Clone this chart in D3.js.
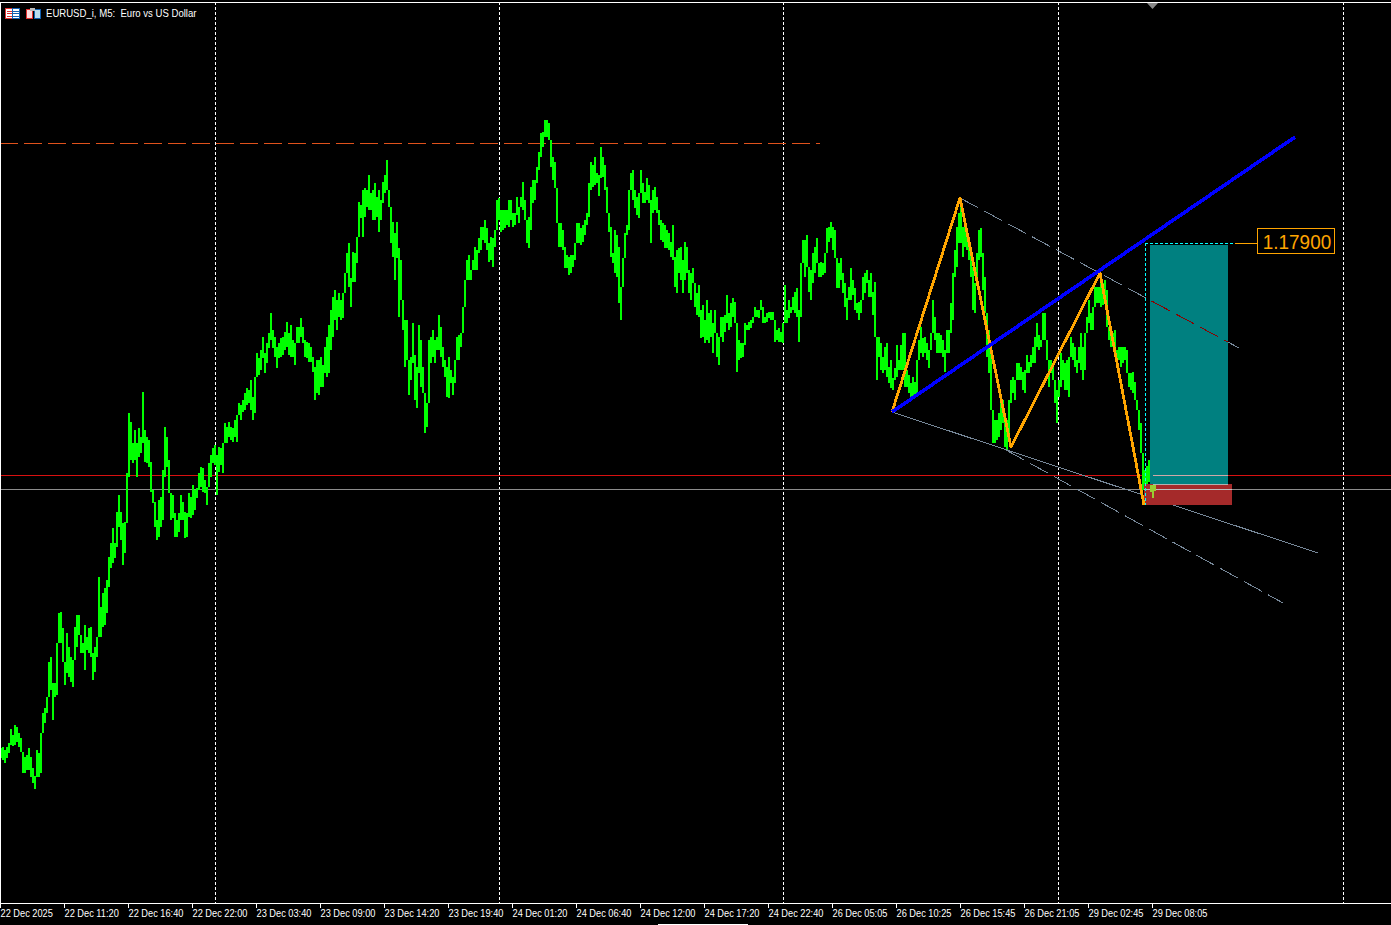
<!DOCTYPE html>
<html>
<head>
<meta charset="utf-8">
<script src="https://cdn.jsdelivr.net/npm/d3@7"></script>
<style>
    html, body { margin: 0; background: #000; overflow: hidden; }
    svg { display: block; }
    text { font-family: "Liberation Sans", sans-serif; }
</style>
</head>
<body>
<svg id="chart" width="1391" height="925"></svg>
<script>
// price is in points above 1.17000, one sample every 2 M5 bars
const barHigh = [
    395,396,393,396,400,414,408,418,416,410, 405,391,386,388,395,386,375,367,393,390,
    406,430,435,445,481,486,460,460,481,530, 531,515,481,510,496,486,480,516,528,528,
    508,500,518,506,515,516,490,496,504,566, 536,550,555,563,586,600,615,600,631,648,
    631,620,621,670,730,721,700,713,700,715, 706,751,713,706,703,681,653,641,623,643,
    646,673,716,706,683,650,648,630,623,630, 648,641,631,630,650,646,658,653,655,670,
    676,675,663,656,680,688,695,698,688,696, 695,690,720,716,721,716,715,723,725,740,
    738,743,750,755,753,763,746,750,790,785, 793,806,790,800,810,830,813,806,796,800,
    805,806,811,821,810,818,803,800,816,816, 825,816,803,801,800,796,786,776,783,783,
    786,778,796,806,818,833,846,853,843,850, 843,848,870,890,900,865,891,890,905,941,
    938,953,955,953,968,950,953,960,946,953, 943,961,968,983,953,936,921,910,921,895,
    883,843,823,823,783,786,820,788,776,818, 803,776,750,740,803,806,813,803,806,828,
    816,796,783,776,786,773,766,780,806,808, 810,830,856,883,888,873,883,896,893,905,
    916,916,923,915,900,906,905,903,943,945, 933,933,933,933,943,943,930,930,946,930,
    946,961,943,923,926,956,963,963,976,991, 1010,1011,1023,1023,1020,1003,986,981,955,920,
    920,913,896,888,886,888,888,896,920,920, 915,918,923,930,960,981,978,986,970,968,
    996,986,978,956,930,916,890,913,908,896, 856,873,910,918,953,970,973,953,946,945,
    973,960,951,965,958,943,953,956,946,933, 923,920,918,913,910,901,918,886,893,895,
    896,883,901,896,873,870,875,860,850,858, 833,838,823,843,830,833,820,833,810,806,
    826,826,828,848,830,840,845,841,820,803, 800,800,820,818,821,823,826,836,833,833,
    843,836,826,830,831,831,831,823,813,815, 811,811,858,833,843,836,846,851,855,833,
    860,903,903,908,876,873,890,896,905,880, 881,880,888,915,916,921,916,913,885,880,
    885,870,860,845,856,875,863,855,840,841, 841,866,870,873,863,870,851,861,806,806,
    800,786,796,800,776,783,765,775,798,783, 798,810,810,773,768,760,766,761,773,803,
    816,805,806,800,790,810,843,826,810,810, 808,803,793,813,813,840,870,893,916,930,
    936,916,920,910,903,896,876,856,890,913, 915,890,866,830,813,796,733,723,723,730,
    743,743,726,723,743,763,766,760,780,780, 776,771,773,788,781,788,796,806,820,808,
    803,830,830,803,783,783,776,763,753,763, 790,783,780,783,776,806,800,796,783,796,
    810,796,796,826,843,830,830,856,856,856, 863,860,863,853,816,813,810,813,793,796,
    796,796,796,793,770,770,771,761,743,733, 720,690,673,677,683,668
];
const barLow = [
    385,383,380,385,390,398,397,398,401,396, 392,370,370,373,373,366,360,354,366,366,
    370,410,420,430,446,453,423,446,448,500, 500,486,458,470,466,461,456,483,496,510,
    490,490,473,493,490,486,463,471,486,506, 506,516,518,530,556,575,580,585,596,616,
    603,578,590,620,666,683,680,683,666,686, 690,700,681,680,676,651,640,616,603,606,
    616,623,666,676,650,623,625,606,606,611, 623,623,605,606,626,625,628,633,645,653,
    656,651,650,638,656,666,680,678,648,671, 678,670,700,700,706,703,701,706,701,728,
    723,731,733,738,740,733,723,730,766,768, 773,785,770,780,795,803,795,786,775,785,
    786,788,793,796,788,786,786,778,800,800, 806,800,786,785,781,781,771,743,750,748,
    756,756,770,766,770,793,806,823,813,826, 823,825,850,870,856,836,861,861,880,906,
    925,906,926,936,933,933,923,923,926,911, 923,940,950,953,936,900,886,863,885,826,
    843,813,776,786,748,763,780,743,735,770, 756,756,710,716,740,780,786,780,793,793,
    786,776,766,746,745,760,748,760,783,783, 796,810,836,863,863,863,873,873,873,890,
    893,903,900,893,881,883,876,896,913,923, 911,913,915,918,916,923,916,918,928,920,
    936,933,926,900,895,913,940,943,960,973, 986,996,1006,1006,1003,976,963,965,926,896,
    896,893,875,875,868,870,876,883,900,900, 898,901,908,918,926,953,956,958,960,947,
    965,966,953,938,911,886,880,870,866,840, 823,856,885,908,913,953,943,935,928,925,
    950,940,940,943,940,900,930,933,930,918, 903,901,895,895,893,886,883,856,850,870,
    863,850,863,870,850,843,860,836,828,826, 805,806,800,803,800,806,790,810,786,778,
    806,801,811,820,813,816,826,820,771,783, 785,786,798,813,813,815,820,826,826,825,
    833,820,820,821,825,823,823,801,803,801, 801,800,820,820,825,830,833,830,826,801,
    826,880,866,876,851,843,860,870,880,866, 866,868,870,890,901,905,893,900,855,855,
    863,850,836,823,843,843,848,833,830,823, 830,843,850,860,846,846,828,810,763,786,
    773,770,773,766,760,755,753,763,766,773, 773,773,756,756,750,743,745,746,750,783,
    790,786,790,783,775,793,810,803,790,790, 790,786,771,790,790,810,823,866,876,900,
    900,886,896,893,883,866,833,830,860,883, 886,853,830,786,770,740,700,700,703,706,
    713,720,696,693,710,740,750,743,763,763, 763,753,750,770,770,776,780,780,796,793,
    796,803,806,783,756,770,763,740,720,746, 756,763,753,753,746,786,783,776,770,780,
    773,763,773,810,820,813,813,836,840,840, 836,838,846,836,803,796,796,790,776,783,
    776,780,783,778,756,753,750,746,733,713, 690,653,646,653,661,663
];
// the three newest bars, drawn over the stop box
const lastBars = [1151, 1153, 1155];
const lastHigh = [658, 658, 658];
const lastLow = [651, 645, 652];

const timeTicks = [0, 64, 128, 192, 256, 320, 384, 448, 512, 576, 640, 704, 768, 832, 896, 960, 1024, 1088, 1152];
const timeLabels = ['22 Dec 2025', '22 Dec 11:20', '22 Dec 16:40', '22 Dec 22:00', '23 Dec 03:40', '23 Dec 09:00',
    '23 Dec 14:20', '23 Dec 19:40', '24 Dec 01:20', '24 Dec 06:40', '24 Dec 12:00', '24 Dec 17:20', '24 Dec 22:40',
    '26 Dec 05:05', '26 Dec 10:25', '26 Dec 15:45', '26 Dec 21:05', '29 Dec 02:45', '29 Dec 08:05'];
const daySeparators = [215, 499, 783, 1058, 1343];

const zigzagBars = [892, 960, 1011, 1100, 1144];
const zigzagPrices = [731, 945, 696, 870, 638];
const trendBlue = [[892, 731], [1295, 1006]];
const trendLower = [[892, 731], [1318, 590]];
const channelUpper = [[960, 945], [1239, 795]];
const channelLower = [[1006, 693], [1283, 540]];
const resistanceLevel = 1000, resistanceEnd = 820;
const redLevel = 668, greyLevel = 654;
const targetLevel = 900, entryLevel = 659, stopLevel = 638;
const targetBox = [1150, 1228], stopBox = [1144, 1232];
const targetLineBars = [1145, 1235, 1257];
const titleText = 'EURUSD_i, M5:  Euro vs US Dollar';

const WIDTH = 1391, HEIGHT = 925, TOP = 2, BOTTOM = 903;
const svg = d3.select('#chart');

const x = d3.scaleLinear().domain([0, WIDTH]).range([0, WIDTH]);
const y = d3.scaleLinear().domain([1141, 240]).range([TOP, BOTTOM]);

const crisp = sel => sel.attr('shape-rendering', 'crispEdges');
const px = v => Math.round(v) + 0.5;

// the terminal font is narrower than anything installed, so squeeze the glyphs
const squeeze = (sel, k) => sel.each(function () {
    d3.select(this)
        .attr('textLength', this.getComputedTextLength() * k)
        .attr('lengthAdjust', 'spacingAndGlyphs');
});

function hLine(g, value, x1, x2, color, dash) {
    return g.append('line').attr('x1', x(x1)).attr('x2', x(x2))
        .attr('y1', px(y(value))).attr('y2', px(y(value)))
        .attr('stroke', color).attr('stroke-dasharray', dash || null)
        .call(crisp);
}

function segment(g, pts, color, width, dash) {
    return g.append('line')
        .attr('x1', x(pts[0][0])).attr('y1', y(pts[0][1]))
        .attr('x2', x(pts[1][0])).attr('y2', y(pts[1][1]))
        .attr('stroke', color).attr('stroke-width', width)
        .attr('stroke-dasharray', dash || null)
        .call(crisp);
}

// period separators
const gridG = svg.append('g');
gridG.selectAll('line').data(daySeparators).enter().append('line')
    .attr('x1', d => px(x(d))).attr('x2', d => px(x(d)))
    .attr('y1', TOP).attr('y2', BOTTOM)
    .attr('stroke', '#fff').attr('stroke-dasharray', '3,2')
    .call(crisp);

// horizontal levels go under the bars
const levelsG = svg.append('g');
hLine(levelsG, resistanceLevel, 0, resistanceEnd, '#e0521c', '18,6');
hLine(levelsG, redLevel, 0, WIDTH, '#d81010');
hLine(levelsG, greyLevel, 0, WIDTH, '#8c8c8c');

// price bars, stretched so each one touches the next like real candles do
const barsG = svg.append('g');
barsG.selectAll('line').data(barHigh).enter().append('line')
    .attr('x1', (d, i) => x(i * 2) + 1).attr('x2', (d, i) => x(i * 2) + 1)
    .attr('y1', (d, i) => y(i < barLow.length - 1 ? Math.max(d, barLow[i + 1]) : d))
    .attr('y2', (d, i) => y(i < barLow.length - 1 ? Math.min(barLow[i], barHigh[i + 1]) : barLow[i]))
    .attr('stroke', '#00ff00').attr('stroke-width', 2)
    .call(crisp);

// trend lines under the boxes
const thinG = svg.append('g');
segment(thinG, trendLower, '#778899', 1);
segment(thinG, channelUpper, '#778899', 1, '20.4,6.8');
segment(thinG, channelLower, '#778899', 1, '20.4,6.8');

// trade boxes
const boxG = svg.append('g');
boxG.append('rect').attr('x', x(targetBox[0])).attr('width', x(targetBox[1]) - x(targetBox[0]))
    .attr('y', y(targetLevel) + 2).attr('height', y(entryLevel) - y(targetLevel) - 2)
    .attr('fill', '#008080').call(crisp);
boxG.append('rect').attr('x', x(stopBox[0])).attr('width', x(stopBox[1]) - x(stopBox[0]))
    .attr('y', y(entryLevel)).attr('height', y(stopLevel) - y(entryLevel))
    .attr('fill', '#a52a2a').call(crisp);

// what the lines look like where they cross the boxes
svg.append('clipPath').attr('id', 'target-clip').append('rect')
    .attr('x', x(targetBox[0])).attr('width', x(targetBox[1]) - x(targetBox[0]))
    .attr('y', y(targetLevel) + 2).attr('height', y(entryLevel) - y(targetLevel) - 2);
segment(svg.append('g').attr('clip-path', 'url(#target-clip)'), channelUpper, '#8b0000', 1, '20.4,6.8');
hLine(boxG, redLevel, 1153, targetBox[1], '#d0a8a8');
hLine(boxG, entryLevel, 1153, targetBox[1], '#b0b0b0');
hLine(boxG, greyLevel, stopBox[0], stopBox[1], '#c0c0c0');

// last bars on top of the stop box
const lastG = svg.append('g');
lastG.selectAll('line').data(lastBars).enter().append('line')
    .attr('x1', d => x(d)).attr('x2', d => x(d))
    .attr('y1', (d, i) => y(lastHigh[i])).attr('y2', (d, i) => y(lastLow[i]))
    .attr('stroke', '#9acd32').attr('stroke-width', 2)
    .call(crisp);

// zigzag and main trend line
const zigzag = d3.line().x((d, i) => x(zigzagBars[i])).y(d => y(d));
svg.append('path').datum(zigzagPrices).attr('d', zigzag)
    .attr('fill', 'none').attr('stroke', '#ffa500').attr('stroke-width', 2.8)
    .attr('stroke-linejoin', 'round')
    .call(crisp);
segment(svg.append('g'), trendBlue, '#0000ff', 3.6);

// target marker
const targetG = svg.append('g');
targetG.append('line').attr('x1', px(x(targetLineBars[0]))).attr('x2', px(x(targetLineBars[0])))
    .attr('y1', y(targetLevel)).attr('y2', y(stopLevel))
    .attr('stroke', '#00ffff').attr('stroke-dasharray', '3,2').call(crisp);
hLine(targetG, targetLevel, targetLineBars[0], targetLineBars[1], '#00ffff', '3,2');
hLine(targetG, targetLevel, targetLineBars[1], targetLineBars[2], '#ffa500');
targetG.append('rect').attr('x', x(targetLineBars[2]) + 0.5).attr('y', y(targetLevel) - 14.5)
    .attr('width', 77).attr('height', 25)
    .attr('fill', '#000').attr('stroke', '#ffa500').call(crisp);
targetG.append('text').attr('x', x(targetLineBars[2]) + 40).attr('y', y(targetLevel) + 6)
    .attr('text-anchor', 'middle').attr('fill', '#ffa500').attr('font-size', '21px')
    .text(d3.format('.5f')(1.17 + targetLevel / 100000))
    .call(squeeze, 0.9);

// frame and time axis
const axisG = svg.append('g').attr('transform', `translate(0,${BOTTOM + 0.5})`);
const timeAxis = d3.axisBottom(x).tickValues(timeTicks).tickSize(4).tickPadding(2)
    .tickFormat((d, i) => timeLabels[i]);
axisG.call(timeAxis);
axisG.select('.domain').attr('stroke', '#fff').attr('d', `M0,0H${WIDTH}`).call(crisp);
axisG.selectAll('.tick line').attr('stroke', '#fff').call(crisp);
axisG.selectAll('.tick text')
    .attr('fill', '#fff').attr('text-anchor', 'start').attr('x', 0)
    .attr('font-size', '10.5px').attr('font-family', '"Liberation Sans", sans-serif')
    .call(squeeze, 0.88);

svg.append('line').attr('x1', 0).attr('x2', WIDTH).attr('y1', TOP + 0.5).attr('y2', TOP + 0.5)
    .attr('stroke', '#fff').call(crisp);
svg.append('line').attr('x1', 0.5).attr('x2', 0.5).attr('y1', TOP).attr('y2', BOTTOM)
    .attr('stroke', '#fff').call(crisp);

// small marker on the top edge and the scroll thumb under the axis
svg.append('path').attr('d', 'M1147,3H1158L1152.5,9Z').attr('fill', '#888');
svg.append('rect').attr('x', 658).attr('y', 924).attr('width', 90).attr('height', 1).attr('fill', '#fff');

// title bar with its two little icons
const iconG = svg.append('g').call(crisp);
iconG.append('rect').attr('x', 5.5).attr('y', 8.5).attr('width', 7).attr('height', 10).attr('fill', '#fff').attr('stroke', '#e03030');
iconG.append('rect').attr('x', 12.5).attr('y', 8.5).attr('width', 7).attr('height', 10).attr('fill', '#fff').attr('stroke', '#1060b0');
[11, 13, 16].forEach(v => {
    iconG.append('line').attr('x1', 7).attr('x2', 12).attr('y1', v + 0.5).attr('y2', v + 0.5).attr('stroke', '#e03030');
    iconG.append('line').attr('x1', 13).attr('x2', 19).attr('y1', v + 0.5).attr('y2', v + 0.5).attr('stroke', '#1060b0');
});
iconG.append('rect').attr('x', 26.5).attr('y', 9.5).attr('width', 6).attr('height', 9).attr('fill', '#fdd').attr('stroke', '#e03030');
iconG.append('rect').attr('x', 34.5).attr('y', 9.5).attr('width', 6).attr('height', 9).attr('fill', '#bde').attr('stroke', '#1060b0');
iconG.append('rect').attr('x', 30).attr('y', 8).attr('width', 5).attr('height', 3).attr('fill', '#bbb');

svg.append('text').attr('x', 46).attr('y', 17)
    .attr('fill', '#fff').attr('font-size', '11px')
    .style('white-space', 'pre').text(titleText)
    .call(squeeze, 0.87);
</script>
</body>
</html>
